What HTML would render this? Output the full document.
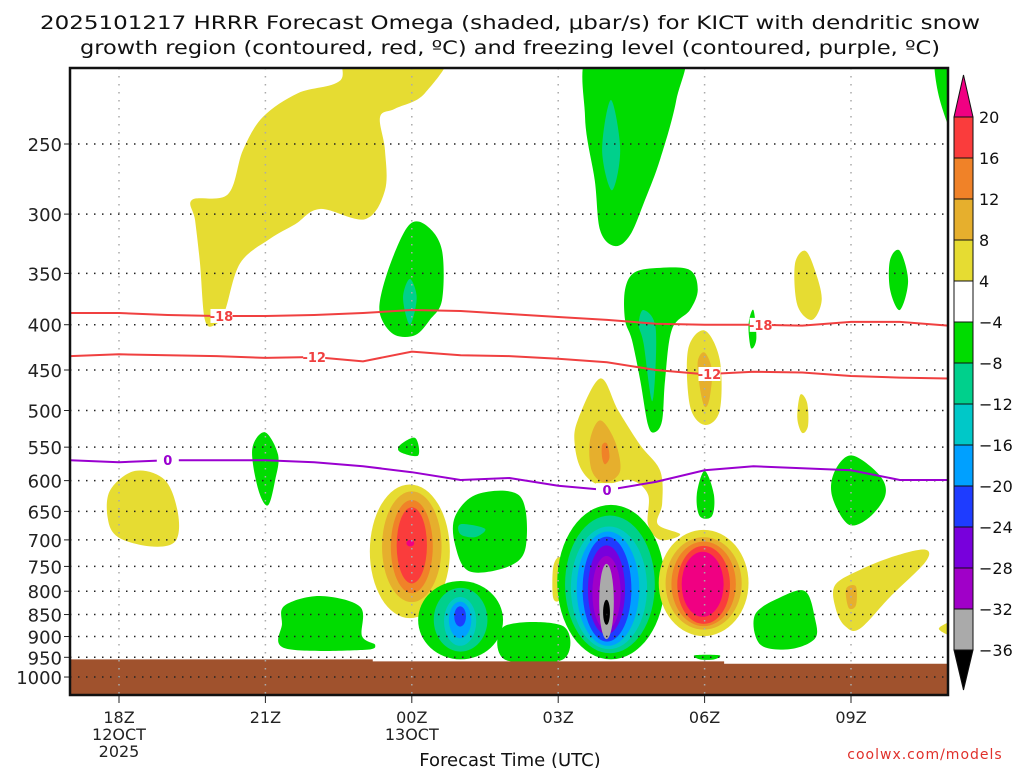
<!DOCTYPE html>
<html><head><meta charset="utf-8"><style>
body{margin:0;background:#fff;width:1024px;height:768px;overflow:hidden}
svg{display:block;font-family:"DejaVu Sans","Liberation Sans",sans-serif}
</style></head><body>
<svg id="chart" width="1024" height="768" viewBox="0 0 1024 768">
<text x="510" y="29" font-size="19" text-anchor="middle" fill="#111" textLength="940" lengthAdjust="spacingAndGlyphs">2025101217 HRRR Forecast Omega (shaded, μbar/s) for KICT with dendritic snow</text>
<text x="510" y="54" font-size="19" text-anchor="middle" fill="#111" textLength="860" lengthAdjust="spacingAndGlyphs">growth region (contoured, red, ºC) and freezing level (contoured, purple, ºC)</text>
<defs><clipPath id="pc"><rect x="70" y="68" width="878" height="627"/></clipPath></defs>
<g id="plot" clip-path="url(#pc)"></g>
<g id="over"></g>
<text x="510" y="766" font-size="18" text-anchor="middle" fill="#111">Forecast Time (UTC)</text>
<text x="925" y="759" font-size="14" text-anchor="middle" fill="#e0302a" letter-spacing="1">coolwx.com/models</text>
</svg>
<script>
const pressureTicks=[250,300,350,400,450,500,550,600,650,700,750,800,850,900,950,1000];
const timeTicks=[18,21,24,27,30,33];
const timeLabels=[["18Z","12OCT","2025"],["21Z"],["00Z","13OCT"],["03Z"],["06Z"],["09Z"]];
const lineHours=[17,18,19,20,21,22,23,24,25,26,27,28,29,30,31,32,33,34,35];
const dgz18=[388,388,390,391,391,390,388,385,386,389,392,395,399,400,400,401,397,397,401];
const dgz12=[434,432,433,434,436,435,440,429,433,434,437,441,450,455,452,453,457,459,460];
const frz0=[569,572,569,569,569,572,578,587,599,596,608,615,602,584,578,581,584,599,599];
const groundHours=[16,23.2,23.2,30.4,30.4,36];
const groundP=[955,955,960,960,966,966];
const cbLevels=["20","16","12","8","4","-4","-8","-12","-16","-20","-24","-28","-32","-36"];
const cbColors=["#fa3c3c","#f08228","#e6af2d","#e6dc32","#ffffff","#00dc00","#00d08c","#00c8c8","#00a0ff","#1e3cff","#7800dc","#a000c8","#aaaaaa"];
const C={y:"#e6dc32",m:"#e6af2d",o:"#f08228",r:"#fa3c3c",p:"#f00082",g:"#00dc00",t:"#00d08c",c:"#00c8c8",lb:"#00a0ff",b:"#1e3cff",pu:"#7800dc",mp:"#a000c8",gr:"#aaaaaa",k:"#000000"};
const shapes=[
["y",[[19.5,289],[20.23,285],[20.54,254],[20.95,233],[21.67,219],[22.53,212],[22.73,195],[24.7,195],[24.27,219],[23.66,228],[23.35,233],[23.45,254],[23.45,282],[23.04,304],[22.12,296],[21.61,308],[21.09,320],[20.48,341],[20.17,386],[19.97,400],[19.76,395],[19.66,341],[19.56,305]]],
["g",[[27.69,195],[29.5,195],[29.42,223],[29.09,260],[28.78,289],[28.47,317],[28.16,326],[27.86,313],[27.75,275],[27.55,233]]],
["t",[[28.08,223],[28.27,254],[28.1,282],[27.9,254]]],
["g",[[34.74,195],[35.3,195],[35.3,254],[34.82,223]]],
["g",[[23.35,375],[23.59,338],[23.96,308],[24.33,310],[24.62,330],[24.62,375],[24.37,395],[24.07,411],[23.66,411],[23.39,395]]],
["t",[[23.96,355],[24.1,373],[23.96,400],[23.82,373]]],
["g",[[28.37,365],[28.57,349],[29.09,345],[29.7,347],[29.86,365],[29.7,385],[29.33,405],[29.19,462],[29.13,513],[28.98,529],[28.84,519],[28.68,462],[28.51,416],[28.37,395]]],
["t",[[28.75,385],[29.0,405],[28.93,488],[28.75,420],[28.65,400]]],
["g",[[33.8,338],[34.0,330],[34.17,357],[34.0,385],[33.8,365]]],
["y",[[31.85,342],[32.06,330],[32.26,347],[32.4,375],[32.2,395],[31.9,380]]],
["y",[[31.96,480],[32.1,490],[32.12,520],[32.0,530],[31.9,510]]],
["y",[[29.66,427],[30.0,406],[30.31,438],[30.31,500],[30.0,519],[29.7,494]]],
["m",[[29.86,440],[30.0,430],[30.15,450],[30.1,485],[30.0,495],[29.9,470]]],
["y",[[27.4,513],[27.86,460],[28.23,500],[28.68,547],[29.09,585],[29.13,637],[29.04,672],[29.5,690],[29.09,700],[28.84,672],[28.84,622],[28.47,599],[27.86,607],[27.49,585],[27.34,547]]],
["m",[[27.65,541],[27.86,513],[28.16,541],[28.27,585],[27.96,603],[27.69,585]]],
["o",[[27.9,547],[28.0,545],[28.05,565],[27.96,575],[27.9,565]]],
["g",[[25.9,876],[27.1,876],[27.1,955],[25.9,955]]],
["g",[[24.89,658],[25.36,621],[26.22,625],[26.34,710],[26.01,749],[25.19,760],[24.89,710]]],
["t",[[25.0,672],[25.5,680],[25.3,695],[25.0,690]]],
["g",[[21.4,830],[22.12,810],[22.94,833],[22.98,899],[23.25,920],[22.98,932],[21.4,928],[21.34,871]]],
["g",[[20.73,553],[20.99,529],[21.26,561],[21.2,599],[21.05,640],[20.85,613]]],
["y",[[17.82,615],[18.33,585],[18.94,599],[19.21,654],[19.15,703],[18.64,712],[17.98,695],[17.77,662]]],
["g",[[32.67,585],[33.02,562],[33.59,592],[33.7,624],[33.35,662],[32.94,672],[32.61,624]]],
["g",[[31.03,851],[31.55,813],[32.06,800],[32.26,858],[32.26,905],[31.75,930],[31.14,919]]],
["y",[[32.67,788],[33.18,757],[33.9,730],[34.52,718],[34.52,742],[33.8,812],[33.18,882],[32.88,876],[32.69,838]]],
["m",[[32.9,795],[33.1,790],[33.1,830],[32.95,835]]],
["g",[[29.84,622],[30.0,585],[30.19,622],[30.15,658],[29.9,658]]],
["g",[[29.8,945],[30.3,945],[30.2,955],[29.9,955]]],
["g",[[23.76,547],[24.07,537],[24.13,562],[23.76,557]]],
["y",[[26.9,750],[27.05,735],[27.07,810],[26.9,815]]],
["y",[[34.8,882],[35.3,860],[35.3,905]]],
["g",[[30.9,400],[31.0,385],[31.06,415],[30.95,425]]]
];
const rings=[
["y",23.96,0.82,606,858],["m",24.0,0.61,617,823],["o",24.0,0.43,631,804],["r",24.0,0.31,643,784],["p",23.97,0.08,700,712],
["g",25.0,0.87,779,955],["t",25.0,0.55,793,936],["c",24.99,0.33,812,922],["lb",24.99,0.23,822,904],["b",24.99,0.12,832,877],
["g",28.08,1.1,639,955],["t",28.06,0.92,657,940],["c",28.04,0.78,676,930],["lb",28.02,0.64,685,922],["b",28.0,0.5,694,912],["pu",27.99,0.38,710,895],["mp",27.99,0.29,730,884],["gr",27.99,0.15,745,906],["k",27.99,0.07,818,873],
["y",29.98,0.92,682,899],["m",29.98,0.78,695,884],["o",29.98,0.66,703,876],["r",29.98,0.54,711,871],["p",29.96,0.43,722,855]
];
const X0=70,X1=948,Y0=68,Y1=695;
function xs(h){return 119+(h-18)*48.8;}
function ys(p){return 144+384.5*Math.log(p/250);}
const NS="http://www.w3.org/2000/svg";
function mk(tag,attrs,parent){const e=document.createElementNS(NS,tag);for(const k in attrs)e.setAttribute(k,attrs[k]);parent.appendChild(e);return e;}
function smooth(pts){const n=pts.length;let d=`M${pts[0][0]},${pts[0][1]}`;for(let i=0;i<n;i++){const p0=pts[(i-1+n)%n],p1=pts[i],p2=pts[(i+1)%n],p3=pts[(i+2)%n];d+=`C${p1[0]+(p2[0]-p0[0])/6},${p1[1]+(p2[1]-p0[1])/6} ${p2[0]-(p3[0]-p1[0])/6},${p2[1]-(p3[1]-p1[1])/6} ${p2[0]},${p2[1]}`;}return d+"Z";}
const plot=document.getElementById('plot'),over=document.getElementById('over'),svg=document.getElementById('chart');
shapes.forEach((s,i)=>{const pts=s[1].map(q=>[xs(q[0]),ys(q[1])]);
 const e=mk('path',{d:smooth(pts),fill:C[s[0]]},plot);
 
 });
rings.forEach((r,i)=>{const cx=xs(r[1]),rx=r[2]*48.8,yt=ys(r[3]),yb=ys(r[4]);
 const e=mk('ellipse',{cx:cx,cy:(yt+yb)/2,rx:rx,ry:(yb-yt)/2,fill:C[r[0]]},plot);
 
 });
let gd=`M${xs(groundHours[0])},${Y1+5}`;groundHours.forEach((h,i)=>gd+=`L${xs(h)},${ys(groundP[i])}`);gd+=`L${xs(groundHours[groundHours.length-1])},${Y1+5}Z`;
const g=mk('path',{d:gd,fill:"#a0522d"},plot);


pressureTicks.forEach(p=>{const y=ys(p);
 const l=mk('line',{x1:X0,x2:X1,y1:y,y2:y,stroke:"#222","stroke-width":1.5,"stroke-dasharray":"1.5 6.5"},plot);
 
 
 const t=mk('line',{x1:X0-6,x2:X0,y1:y,y2:y,stroke:"#222","stroke-width":1},over);
 
 
 const tx=mk('text',{x:62,y:y+7,"font-size":18,"text-anchor":"end",fill:"#222"},over);tx.textContent=p;
 
 });
timeTicks.forEach((h,i)=>{const x=xs(h);
 const l=mk('line',{x1:x,x2:x,y1:Y0,y2:Y1,stroke:"#aaa","stroke-width":1.5,"stroke-dasharray":"1.5 6.5"},plot);
 
 
 const t=mk('line',{x1:x,x2:x,y1:Y1,y2:Y1+8,stroke:"#222","stroke-width":1},over);
 
 
 timeLabels[i].forEach((s,j)=>{const tx=mk('text',{x:x,y:723+j*17,"font-size":16,"text-anchor":"middle",fill:"#222"},over);tx.textContent=s;
  
  });});
function drawLine(vals,color,name,labels,lab){const pts=lineHours.map((h,i)=>[xs(h),ys(vals[i])]);
 const e=mk('polyline',{points:pts.map(q=>q.join(',')).join(' '),fill:"none",stroke:color,"stroke-width":2},plot);
 
 
 labels.forEach(h=>{let i=0;while(i<lineHours.length-2&&lineHours[i+1]<h)i++;const f=(h-lineHours[i])/(lineHours[i+1]-lineHours[i]);const p=vals[i]+(vals[i+1]-vals[i])*f;const x=xs(h),y=ys(p);
  const bg=mk('rect',{x:x-11,y:y-7,width:22,height:14,fill:"#fff"},plot);
  
  
  const t=mk('text',{x:x,y:y+5,"font-size":13,"font-weight":"bold","text-anchor":"middle",fill:color},plot);t.textContent=lab;
  
  });}
drawLine(dgz18,"#f04040","dgz-minus18-contour",[20.1,31.15],"-18");
drawLine(dgz12,"#f04040","dgz-minus12-contour",[22.0,30.1],"-12");
drawLine(frz0,"#9a00d0","freezing-level-contour",[19.0,28.0],"0");
const fr=mk('rect',{x:X0,y:Y0,width:X1-X0,height:Y1-Y0,fill:"none",stroke:"#111","stroke-width":2.5},over);


const cb=mk('g',{},svg);


const cbX=954,cbW=19,cbTop=117,cbH=41;
const tu=mk('path',{d:`M${cbX},${cbTop}L${cbX+cbW/2},75L${cbX+cbW},${cbTop}Z`,fill:"#f00082",stroke:"#111"},cb);


cbColors.forEach((c,i)=>{const r=mk('rect',{x:cbX,y:cbTop+i*cbH,width:cbW,height:cbH,fill:c,stroke:"#111","stroke-width":1},cb);
 
 });
const tb=mk('path',{d:`M${cbX},${cbTop+13*cbH}L${cbX+cbW/2},690L${cbX+cbW},${cbTop+13*cbH}Z`,fill:"#000",stroke:"#111"},cb);


cbLevels.forEach((s,i)=>{const t=mk('text',{x:979,y:cbTop+i*cbH+6,"font-size":16,fill:"#111"},cb);t.textContent=s.replace('-','−');
 
 });
</script>
</body></html>
